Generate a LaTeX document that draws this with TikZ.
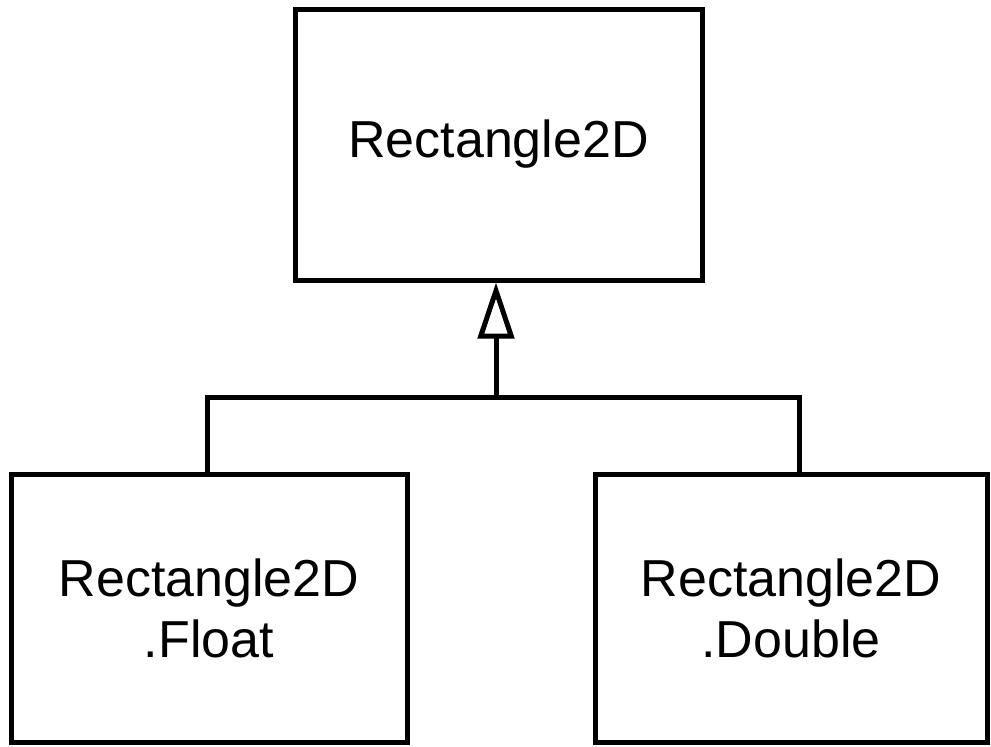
\documentclass[tikz,border=0pt]{standalone}
\usepackage{fontspec}
\setmainfont{Liberation Sans}
\usepackage{tikz}
\usetikzlibrary{arrows.meta,positioning}
\tikzset{
  cls/.style={draw,line width=2.5pt,align=center,inner sep=0pt,font=\fontsize{26}{30.5}\selectfont},
  inh/.style={-{Triangle[open,length=28pt,width=18pt]},line width=2.5pt},
  ln/.style={line width=2.5pt}
}

\begin{document}
\begin{tikzpicture}[x=0.5pt,y=-0.5pt]
\useasboundingbox (0,0) rectangle (991,746);
\node[cls,minimum width=203.5pt,minimum height=135.5pt] (base) at (498.5,144.5) {Rectangle2D};
\node[cls,minimum width=198pt,minimum height=134pt] (flt) at (209,608) {Rectangle2D\\.Float};
\node[cls,minimum width=196pt,minimum height=134pt] (dbl) at (791,608) {Rectangle2D\\.Double};
\coordinate (jn) at (496,397);
\draw[ln] ([xshift=-1pt]flt.north) |- (jn) -| ([xshift=4pt]dbl.north);
\draw[inh] (jn) -- (jn |- base.south);
\end{tikzpicture}
\end{document}
